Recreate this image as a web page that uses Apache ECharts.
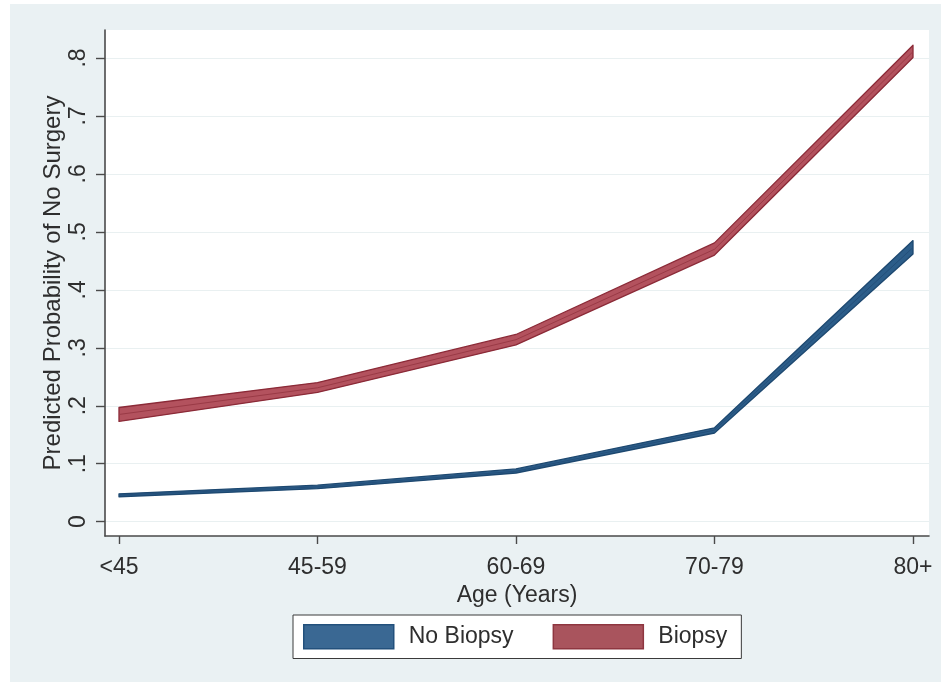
<!DOCTYPE html>
<html>
<head>
<meta charset="utf-8">
<script src="https://cdn.jsdelivr.net/npm/echarts@6/dist/echarts.min.js"></script>
<style>
html,body{margin:0;padding:0;background:#fff;width:941px;height:686px;overflow:hidden;}
#chart{position:absolute;left:10px;top:4px;width:931px;height:678px;background:#EAF1F3;}
</style>
</head>
<body>
<div id="chart"></div>
<script>
// ---- data ----
var categories = ['<45', '45-59', '60-69', '70-79', '80+'];
var yTicks = [0, 0.1, 0.2, 0.3, 0.4, 0.5, 0.6, 0.7, 0.8];
var yTickLabels = ['0', '.1', '.2', '.3', '.4', '.5', '.6', '.7', '.8'];
var noBiopsyLow  = [0.043, 0.057, 0.084, 0.153, 0.462];
var noBiopsyMid  = [0.046, 0.060, 0.087, 0.158, 0.473];
var noBiopsyHigh = [0.048, 0.063, 0.091, 0.162, 0.485];
var biopsyLow  = [0.173, 0.223, 0.305, 0.460, 0.801];
var biopsyMid  = [0.185, 0.231, 0.314, 0.470, 0.811];
var biopsyHigh = [0.197, 0.240, 0.323, 0.481, 0.822];

var FONT = '"Liberation Sans", Arial, sans-serif';
var TXT = '#2e2e2e';

function bandRender(low, mid, high, fill, stroke, midColor) {
  return function (params, api) {
    if (params.dataIndex !== 0) return null;
    var up = [], lo = [], md = [];
    for (var i = 0; i < categories.length; i++) {
      up.push(api.coord([i, high[i]]));
      lo.push(api.coord([i, low[i]]));
      md.push(api.coord([i, mid[i]]));
    }
    var poly = up.concat(lo.slice().reverse());
    return {
      type: 'group',
      children: [
        { type: 'polygon', shape: { points: poly },
          style: { fill: fill, stroke: stroke, lineWidth: 1.3, lineJoin: 'round' } },
        { type: 'polyline', shape: { points: md },
          style: { fill: null, stroke: midColor, lineWidth: 1 } }
      ]
    };
  };
}

var chart = echarts.init(document.getElementById('chart'), null, { renderer: 'canvas' });
chart.setOption({
  backgroundColor: 'transparent',
  animation: false,
  textStyle: { fontFamily: FONT },
  grid: { left: 95, right: 12, top: 26, bottom: 146, show: true, backgroundColor: '#ffffff', borderWidth: 0 },
  xAxis: {
    type: 'value',
    min: -0.0705, max: 4.0806,
    name: 'Age (Years)', nameLocation: 'middle', nameGap: 43,
    nameTextStyle: { fontSize: 23, color: TXT, fontFamily: FONT },
    axisLine: { onZero: false, lineStyle: { color: '#4a4a4a', width: 1.6 } },
    axisTick: { show: true, length: 8, customValues: [0, 1, 2, 3, 4], lineStyle: { color: '#4a4a4a', width: 1.4 } },
    axisLabel: { customValues: [0, 1, 2, 3, 4], margin: 20, fontSize: 23, color: TXT, fontFamily: FONT,
      formatter: function (v) { return categories[Math.round(v)]; } },
    splitLine: { show: false }
  },
  yAxis: {
    type: 'value',
    min: -0.0247, max: 0.8483,
    name: 'Predicted Probability of No Surgery', nameLocation: 'middle', nameGap: 40,
    nameMoveOverlap: false,
    nameTextStyle: { fontSize: 24, color: TXT, fontFamily: FONT },
    axisLine: { show: true, onZero: false, lineStyle: { color: '#4a4a4a', width: 1.6 } },
    axisTick: { show: true, length: 9, customValues: yTicks, lineStyle: { color: '#4a4a4a', width: 1.4 } },
    axisLabel: { customValues: yTicks, rotate: 90, margin: 15, fontSize: 23, color: TXT, fontFamily: FONT,
      formatter: function (v) { var i = yTicks.indexOf(Math.round(v * 10) / 10); return i >= 0 ? yTickLabels[i] : ''; } },
    splitLine: { show: true, lineStyle: { color: '#E9F0F1', width: 1.2 } }
  },
  legend: {
    left: 283, top: 611,
    orient: 'horizontal',
    backgroundColor: '#ffffff', borderColor: '#3a3a3a', borderWidth: 1,
    padding: [9, 14, 9, 10],
    itemWidth: 90, itemHeight: 24, itemGap: 39,
    textStyle: { fontSize: 23, color: TXT, fontFamily: FONT, padding: [0, 0, 0, 10] },
    data: [
      { name: 'No Biopsy', icon: 'rect', itemStyle: { color: '#3A6893', borderColor: '#22507C', borderWidth: 1.5 } },
      { name: 'Biopsy', icon: 'rect', itemStyle: { color: '#A9545D', borderColor: '#8E3640', borderWidth: 1.5 } }
    ]
  },
  series: [
    {
      name: 'No Biopsy', type: 'custom', coordinateSystem: 'cartesian2d',
      renderItem: bandRender(noBiopsyLow, noBiopsyMid, noBiopsyHigh, '#2C5D89', '#1D4870', '#244F7A'),
      itemStyle: { color: '#3A6893' },
      data: categories.map(function (c, i) { return [i, noBiopsyMid[i]]; }),
      silent: true
    },
    {
      name: 'Biopsy', type: 'custom', coordinateSystem: 'cartesian2d',
      renderItem: bandRender(biopsyLow, biopsyMid, biopsyHigh, '#B3525E', '#8B2A37', '#9A3A46'),
      itemStyle: { color: '#A9545D' },
      data: categories.map(function (c, i) { return [i, biopsyMid[i]]; }),
      silent: true
    }
  ]
});
</script>
</body>
</html>
